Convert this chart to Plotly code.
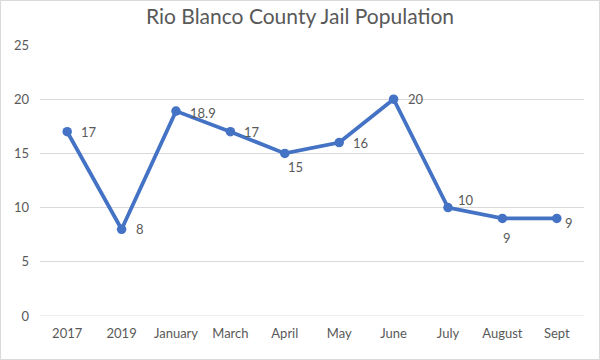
import plotly.graph_objects as go

categories = ["2017", "2019", "January", "March", "April", "May", "June", "July", "August", "Sept"]
population = [17, 8, 18.9, 17, 15, 16, 20, 10, 9, 9]
label_text = ["17", "8", "18.9", "17", "15", "16", "20", "10", "9", "9"]

# label placement styles (anchor, xshift, yshift)
label_style = [
    ("left", 12, 0), ("left", 12, 0), ("left", 12, -2), ("left", 12, 0),
    ("center", 11, -14), ("left", 12, 0), ("left", 12, 0), ("left", 8, 8),
    ("center", 5, -20), ("left", 6, -5),
]

LINE = "#4472C4"
TXT = "#595959"
FONT = "Lato"

fig = go.Figure()
fig.add_trace(go.Scatter(
    x=categories, y=population, mode="lines+markers",
    line=dict(color=LINE, width=3.75),
    marker=dict(color=LINE, size=9.5),
    hoverinfo="x+y",
))

# annotations on a category axis are placed by category index
for i, (v, t, (anc, xs, ys)) in enumerate(zip(population, label_text, label_style)):
    fig.add_annotation(x=i, y=v, text=t, showarrow=False, xanchor=anc, yanchor="middle",
                       xshift=xs, yshift=ys, font=dict(family=FONT, size=13, color=TXT))

ml, mr, mt, mb = 40, 16, 45, 44
W, H = 600, 360
pw, ph = W - ml - mr, H - mt - mb

fig.update_layout(
    width=W, height=H,
    margin=dict(l=ml, r=mr, t=mt, b=mb),
    paper_bgcolor="white", plot_bgcolor="white",
    showlegend=False,
    title=dict(text="Rio Blanco County Jail Population", x=0.5, xanchor="center",
               y=1 - 17 / H, yanchor="middle",
               font=dict(family=FONT, size=21, color=TXT)),
    font=dict(family=FONT, size=13, color=TXT),
    xaxis=dict(type="category", range=[-0.5, len(categories) - 0.5],
               showgrid=False, zeroline=False, showline=False, ticks="",
               tickfont=dict(family=FONT, size=13, color=TXT), ticklabelstandoff=8),
    yaxis=dict(range=[0, 25], dtick=5, showgrid=True, gridcolor="#D9D9D9", gridwidth=1,
               zeroline=False, showline=False, ticks="",
               tickfont=dict(family=FONT, size=13, color=TXT), ticklabelstandoff=10),
    shapes=[dict(type="rect", xref="paper", yref="paper",
                 x0=-(ml - 0.5) / pw, x1=1 + (mr - 0.5) / pw,
                 y0=-(mb - 0.5) / ph, y1=1 + (mt - 0.5) / ph,
                 line=dict(color="#D9D9D9", width=1), layer="below"),
            dict(type="line", xref="paper", yref="y", x0=0, x1=1, y0=0, y1=0,
                 line=dict(color="#D9D9D9", width=1), layer="below")],
)

fig.write_html("out.html", config={"displayModeBar": False},
               post_script="document.body.style.margin='0';")
